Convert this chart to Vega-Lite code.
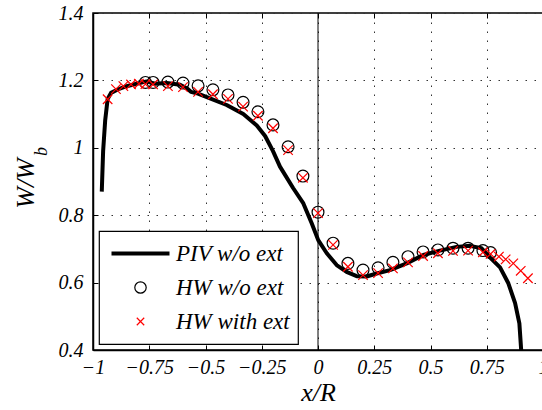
{
  "$schema": "https://vega.github.io/schema/vega-lite/v6.json",
  "width": 450,
  "height": 337,
  "autosize": {"type": "none"},
  "padding": {"left": 93, "top": 13, "right": 0, "bottom": 60},
  "background": "white",
  "config": {
    "view": {"stroke": "black", "strokeWidth": 1.5},
    "font": "Liberation Serif",
    "axis": {
      "labelFont": "Liberation Serif", "labelFontStyle": "italic", "labelFontSize": 20, "labelColor": "black",
      "domainColor": "black", "domainWidth": 1.5, "tickColor": "black", "tickSize": -5, "tickWidth": 1,
      "gridColor": "#333333", "gridDash": [1.5, 7.5], "gridWidth": 1, "gridOpacity": 1,
      "titleFont": "Liberation Serif", "titleFontStyle": "italic", "titleFontWeight": "normal", "titleColor": "black"
    },
    "legend": {
      "orient": "none", "legendX": 6, "legendY": 218,
      "strokeColor": "black", "fillColor": "white", "cornerRadius": 0, "strokeWidth": 1.2,
      "padding": 8, "clipHeight": 29, "rowPadding": 5, "symbolOffset": 22, "labelOffset": 24,
      "labelFont": "Liberation Serif", "labelFontStyle": "italic", "labelFontSize": 23, "labelColor": "black",
      "labelLimit": 300
    }
  },
  "data": {"values": [
    {"s": "PIV w/o ext", "x": -0.961, "y": 0.870},
    {"s": "PIV w/o ext", "x": -0.955, "y": 0.990},
    {"s": "PIV w/o ext", "x": -0.946, "y": 1.080},
    {"s": "PIV w/o ext", "x": -0.935, "y": 1.145},
    {"s": "PIV w/o ext", "x": -0.920, "y": 1.163},
    {"s": "PIV w/o ext", "x": -0.890, "y": 1.173},
    {"s": "PIV w/o ext", "x": -0.860, "y": 1.181},
    {"s": "PIV w/o ext", "x": -0.806, "y": 1.190},
    {"s": "PIV w/o ext", "x": -0.762, "y": 1.197},
    {"s": "PIV w/o ext", "x": -0.724, "y": 1.190},
    {"s": "PIV w/o ext", "x": -0.672, "y": 1.192},
    {"s": "PIV w/o ext", "x": -0.613, "y": 1.187},
    {"s": "PIV w/o ext", "x": -0.580, "y": 1.175},
    {"s": "PIV w/o ext", "x": -0.565, "y": 1.166},
    {"s": "PIV w/o ext", "x": -0.539, "y": 1.162},
    {"s": "PIV w/o ext", "x": -0.480, "y": 1.147},
    {"s": "PIV w/o ext", "x": -0.406, "y": 1.127},
    {"s": "PIV w/o ext", "x": -0.332, "y": 1.100},
    {"s": "PIV w/o ext", "x": -0.272, "y": 1.066},
    {"s": "PIV w/o ext", "x": -0.235, "y": 1.035},
    {"s": "PIV w/o ext", "x": -0.200, "y": 0.990},
    {"s": "PIV w/o ext", "x": -0.169, "y": 0.944},
    {"s": "PIV w/o ext", "x": -0.110, "y": 0.880},
    {"s": "PIV w/o ext", "x": -0.065, "y": 0.835},
    {"s": "PIV w/o ext", "x": -0.028, "y": 0.776},
    {"s": "PIV w/o ext", "x": 0.001, "y": 0.726},
    {"s": "PIV w/o ext", "x": 0.039, "y": 0.687},
    {"s": "PIV w/o ext", "x": 0.083, "y": 0.652},
    {"s": "PIV w/o ext", "x": 0.127, "y": 0.632},
    {"s": "PIV w/o ext", "x": 0.172, "y": 0.619},
    {"s": "PIV w/o ext", "x": 0.216, "y": 0.618},
    {"s": "PIV w/o ext", "x": 0.261, "y": 0.627},
    {"s": "PIV w/o ext", "x": 0.320, "y": 0.637},
    {"s": "PIV w/o ext", "x": 0.394, "y": 0.657},
    {"s": "PIV w/o ext", "x": 0.468, "y": 0.682},
    {"s": "PIV w/o ext", "x": 0.542, "y": 0.695},
    {"s": "PIV w/o ext", "x": 0.616, "y": 0.706},
    {"s": "PIV w/o ext", "x": 0.676, "y": 0.709},
    {"s": "PIV w/o ext", "x": 0.727, "y": 0.702},
    {"s": "PIV w/o ext", "x": 0.764, "y": 0.675},
    {"s": "PIV w/o ext", "x": 0.809, "y": 0.645},
    {"s": "PIV w/o ext", "x": 0.846, "y": 0.598},
    {"s": "PIV w/o ext", "x": 0.876, "y": 0.539},
    {"s": "PIV w/o ext", "x": 0.895, "y": 0.479},
    {"s": "PIV w/o ext", "x": 0.902, "y": 0.410},
    {"s": "PIV w/o ext", "x": 0.905, "y": 0.380},
    {"s": "HW w/o ext", "x": -0.767, "y": 1.194},
    {"s": "HW w/o ext", "x": -0.733, "y": 1.194},
    {"s": "HW w/o ext", "x": -0.667, "y": 1.195},
    {"s": "HW w/o ext", "x": -0.600, "y": 1.192},
    {"s": "HW w/o ext", "x": -0.533, "y": 1.184},
    {"s": "HW w/o ext", "x": -0.467, "y": 1.172},
    {"s": "HW w/o ext", "x": -0.400, "y": 1.157},
    {"s": "HW w/o ext", "x": -0.333, "y": 1.135},
    {"s": "HW w/o ext", "x": -0.267, "y": 1.107},
    {"s": "HW w/o ext", "x": -0.200, "y": 1.068},
    {"s": "HW w/o ext", "x": -0.133, "y": 1.003},
    {"s": "HW w/o ext", "x": -0.067, "y": 0.916},
    {"s": "HW w/o ext", "x": 0.000, "y": 0.809},
    {"s": "HW w/o ext", "x": 0.067, "y": 0.717},
    {"s": "HW w/o ext", "x": 0.133, "y": 0.657},
    {"s": "HW w/o ext", "x": 0.200, "y": 0.637},
    {"s": "HW w/o ext", "x": 0.267, "y": 0.644},
    {"s": "HW w/o ext", "x": 0.333, "y": 0.660},
    {"s": "HW w/o ext", "x": 0.400, "y": 0.677},
    {"s": "HW w/o ext", "x": 0.467, "y": 0.691},
    {"s": "HW w/o ext", "x": 0.533, "y": 0.697},
    {"s": "HW w/o ext", "x": 0.600, "y": 0.702},
    {"s": "HW w/o ext", "x": 0.667, "y": 0.702},
    {"s": "HW w/o ext", "x": 0.733, "y": 0.695},
    {"s": "HW w/o ext", "x": 0.767, "y": 0.689},
    {"s": "HW with ext", "x": -0.935, "y": 1.144},
    {"s": "HW with ext", "x": -0.898, "y": 1.174},
    {"s": "HW with ext", "x": -0.865, "y": 1.183},
    {"s": "HW with ext", "x": -0.831, "y": 1.188},
    {"s": "HW with ext", "x": -0.796, "y": 1.190},
    {"s": "HW with ext", "x": -0.767, "y": 1.189},
    {"s": "HW with ext", "x": -0.733, "y": 1.188},
    {"s": "HW with ext", "x": -0.667, "y": 1.183},
    {"s": "HW with ext", "x": -0.600, "y": 1.180},
    {"s": "HW with ext", "x": -0.533, "y": 1.166},
    {"s": "HW with ext", "x": -0.467, "y": 1.159},
    {"s": "HW with ext", "x": -0.400, "y": 1.145},
    {"s": "HW with ext", "x": -0.333, "y": 1.122},
    {"s": "HW with ext", "x": -0.267, "y": 1.095},
    {"s": "HW with ext", "x": -0.200, "y": 1.058},
    {"s": "HW with ext", "x": -0.133, "y": 0.993},
    {"s": "HW with ext", "x": -0.067, "y": 0.911},
    {"s": "HW with ext", "x": 0.000, "y": 0.806},
    {"s": "HW with ext", "x": 0.067, "y": 0.712},
    {"s": "HW with ext", "x": 0.133, "y": 0.647},
    {"s": "HW with ext", "x": 0.200, "y": 0.622},
    {"s": "HW with ext", "x": 0.267, "y": 0.628},
    {"s": "HW with ext", "x": 0.333, "y": 0.642},
    {"s": "HW with ext", "x": 0.400, "y": 0.660},
    {"s": "HW with ext", "x": 0.467, "y": 0.679},
    {"s": "HW with ext", "x": 0.533, "y": 0.687},
    {"s": "HW with ext", "x": 0.600, "y": 0.694},
    {"s": "HW with ext", "x": 0.667, "y": 0.695},
    {"s": "HW with ext", "x": 0.733, "y": 0.690},
    {"s": "HW with ext", "x": 0.767, "y": 0.685},
    {"s": "HW with ext", "x": 0.804, "y": 0.677},
    {"s": "HW with ext", "x": 0.834, "y": 0.669},
    {"s": "HW with ext", "x": 0.868, "y": 0.657},
    {"s": "HW with ext", "x": 0.901, "y": 0.635},
    {"s": "HW with ext", "x": 0.933, "y": 0.613}
  ]},
  "resolve": {"axis": {"x": "independent", "y": "independent"}},
  "layer": [
    {
      "data": {"values": [{"x": 0}]},
      "mark": {"type": "rule", "color": "black", "strokeWidth": 1},
      "encoding": {
        "x": {"field": "x", "type": "quantitative", "title": null,
              "scale": {"domain": [-1, 1], "nice": false, "zero": false},
              "axis": {"orient": "top", "labels": false, "domain": false, "grid": false, "title": null,
                       "values": [-1, -0.75, -0.5, -0.25, 0, 0.25, 0.5, 0.75, 1]}}
      }
    },
    {
      "transform": [{"filter": "datum.s === 'PIV w/o ext'"}],
      "mark": {"type": "line", "clip": true, "strokeJoin": "round", "strokeCap": "butt", "strokeWidth": 4},
      "encoding": {
        "x": {"field": "x", "type": "quantitative", "title": "x/R",
              "scale": {"domain": [-1, 1], "nice": false, "zero": false},
              "axis": {"orient": "bottom", "grid": true, "values": [-1, -0.75, -0.5, -0.25, 0, 0.25, 0.5, 0.75, 1],
                       "labelExpr": "replace(format(datum.value, '~g'), '-', '−')", "labelPadding": 12,
                       "titleFontSize": 26, "titleY": 50, "titleBaseline": "alphabetic", "labelFlush": false}},
        "y": {"field": "y", "type": "quantitative", "title": "W/W",
              "scale": {"domain": [0.4, 1.4], "nice": false, "zero": false},
              "axis": {"orient": "left", "grid": true, "values": [0.4, 0.6, 0.8, 1, 1.2, 1.4],
                       "labelExpr": "format(datum.value, '~g')", "labelPadding": 15,
                       "titleFontSize": 26, "titleAngle": -90, "titleX": -60, "titleY": 170,
                       "titleAlign": "center", "titleBaseline": "alphabetic", "labelFlush": false}},
        "color": {"field": "s", "type": "nominal", "title": null,
                  "scale": {"domain": ["PIV w/o ext", "HW w/o ext", "HW with ext"], "range": ["black", "black", "red"]},
                  "legend": {
                    "symbolSize": 3364,
                    "encode": {"symbols": {"update": {
                      "shape": {"signal": "datum.value === 'PIV w/o ext' ? 'stroke' : (datum.value === 'HW w/o ext' ? 'circle' : 'M-1,-1L1,1M1,-1L-1,1')"},
                      "size": {"signal": "datum.value === 'PIV w/o ext' ? 3364 : (datum.value === 'HW w/o ext' ? 130 : 55)"},
                      "strokeWidth": {"signal": "datum.value === 'PIV w/o ext' ? 4 : 1.2"},
                      "stroke": {"signal": "datum.value === 'HW with ext' ? 'red' : 'black'"},
                      "fill": {"value": "transparent"},
                      "opacity": {"value": 1}
                    }}}
                  }}
      }
    },
    {
      "transform": [{"filter": "datum.s === 'HW w/o ext'"}],
      "mark": {"type": "point", "shape": "circle", "filled": false, "opacity": 1, "size": 140, "strokeWidth": 1.2},
      "encoding": {
        "x": {"field": "x", "type": "quantitative", "title": null, "axis": null},
        "y": {"field": "y", "type": "quantitative", "title": "b",
              "axis": {"orient": "left", "labels": false, "ticks": false, "domain": false, "grid": false,
                       "titleFontSize": 18, "titleAngle": -90, "titleX": -47, "titleY": 138,
                       "titleAlign": "center", "titleBaseline": "alphabetic"}},
        "color": {"field": "s", "type": "nominal", "title": null}
      }
    },
    {
      "transform": [{"filter": "datum.s === 'HW with ext'"}],
      "mark": {"type": "point", "shape": "M-1,-1L1,1M1,-1L-1,1", "filled": false, "opacity": 1, "size": 90, "strokeWidth": 1.2},
      "encoding": {
        "x": {"field": "x", "type": "quantitative", "title": null, "axis": null},
        "y": {"field": "y", "type": "quantitative", "title": null, "axis": null},
        "color": {"field": "s", "type": "nominal", "title": null}
      }
    }
  ]
}
